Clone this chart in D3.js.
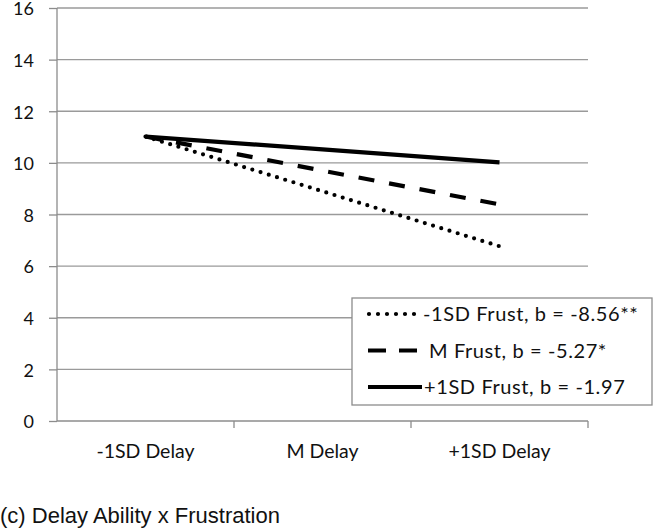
<!DOCTYPE html>
<html><head><meta charset="utf-8">
<script src="https://cdn.jsdelivr.net/npm/d3@7"></script>
<style>body{margin:0;background:#fff}svg{display:block}</style>
</head><body>
<svg id="c" width="654" height="531"></svg>
<script>
const categories = ["-1SD Delay", "M Delay", "+1SD Delay"];
const seriesNames = ["-1SD Frust, b = -8.56**", "M Frust, b = -5.27*", "+1SD Frust, b = -1.97"];
const lowFrust = [11.02, 8.9, 6.77];
const meanFrust = [11.02, 9.7, 8.39];
const highFrust = [11.02, 10.52, 10.02];
const yTicks = [0, 2, 4, 6, 8, 10, 12, 14, 16];
const title = "(c) Delay Ability x Frustration";

(function () {
const series = [
  {name: seriesNames[0], values: lowFrust, dash: "0,8.6", ldash: "0,9", width: 4.2, cap: "round", lx1: 369, lx2: 414.5, tx: 423},
  {name: seriesNames[1], values: meanFrust, dash: "16,15", ldash: "18,13", width: 4.2, cap: "butt", lx1: 368, lx2: 418, tx: 429},
  {name: seriesNames[2], values: highFrust, dash: null, ldash: null, width: 4.2, cap: "butt", lx1: 368, lx2: 422, tx: 424}
];

const svg = d3.select("#c");
const mLeft = 57, mRight = 588, mTop = 8, mBottom = 421;
const x = d3.scaleBand().domain(categories).range([mLeft, mRight]);
const y = d3.scaleLinear().domain([0, 16]).range([mBottom, mTop]);
const font = "Lato, 'Open Sans', sans-serif";
const axisCol = "#8c8c8c";

svg.append("g").selectAll("line").data(yTicks.filter(d => d > 0)).join("line")
  .attr("x1", mLeft).attr("x2", mRight)
  .attr("y1", d => y(d)).attr("y2", d => y(d))
  .attr("stroke", "#9a9a9a").attr("stroke-width", 1.3);

const yAxis = svg.append("g").attr("transform", `translate(${mLeft},0)`)
  .call(d3.axisLeft(y).tickValues(yTicks).tickSize(8).tickPadding(15).tickFormat(d3.format("d")));
yAxis.select(".domain").attr("stroke", axisCol).attr("stroke-width", 1.3).attr("d", `M0,${mTop}V${mBottom}`);
yAxis.selectAll(".tick line").attr("stroke", axisCol).attr("stroke-width", 1.3);
yAxis.selectAll("text").attr("font-family", font).attr("font-size", 18).attr("fill", "#111").attr("dy", "0.38em");

const xAxis = svg.append("g").attr("transform", `translate(0,${mBottom})`)
  .call(d3.axisBottom(x).tickSize(0).tickPadding(0));
xAxis.select(".domain").attr("stroke", axisCol).attr("stroke-width", 1.3).attr("d", `M${mLeft},0H${mRight}`);
xAxis.selectAll("text").attr("font-family", font).attr("font-size", 19.5).attr("fill", "#111")
  .attr("y", 37).attr("dy", 0);
const bounds = categories.map(c => x(c) + x.bandwidth());
svg.append("g").selectAll("line").data(bounds).join("line")
  .attr("x1", d => d).attr("x2", d => d).attr("y1", mBottom).attr("y2", mBottom + 7)
  .attr("stroke", axisCol).attr("stroke-width", 1.3);

const line = d3.line().x((d, i) => x(categories[i]) + x.bandwidth() / 2).y(d => y(d));
series.forEach(s => {
  svg.append("path").datum(s.values).attr("d", line)
    .attr("fill", "none").attr("stroke", "#000").attr("stroke-width", s.width)
    .attr("stroke-linecap", s.cap)
    .attr("stroke-dasharray", s.dash);
});

const lg = svg.append("g");
lg.append("rect").attr("x", 352).attr("y", 298).attr("width", 300).attr("height", 107)
  .attr("fill", "#fff").attr("stroke", axisCol).attr("stroke-width", 1.3);
series.forEach((s, i) => {
  const ly = 314 + i * 36.5;
  lg.append("line").attr("x1", s.lx1).attr("x2", s.lx2).attr("y1", ly).attr("y2", ly)
    .attr("stroke", "#000").attr("stroke-width", s.width).attr("stroke-linecap", s.cap)
    .attr("stroke-dasharray", s.ldash);
  lg.append("text").attr("x", s.tx).attr("y", ly + 7)
    .attr("font-family", font).attr("font-size", 20).attr("letter-spacing", 0.6)
    .attr("fill", "#111").text(s.name);
});

svg.append("text").attr("x", 0).attr("y", 523).attr("font-family", "'Liberation Sans', Arial, sans-serif")
  .attr("font-size", 22).attr("fill", "#111").text(title);
})();
</script>
</body></html>
